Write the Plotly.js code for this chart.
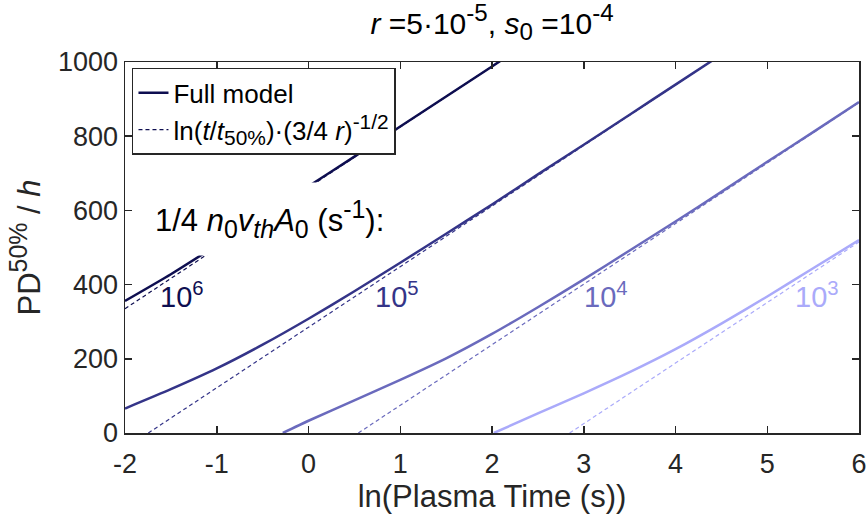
<!DOCTYPE html>
<html>
<head>
<meta charset="utf-8">
<script src="https://cdn.plot.ly/plotly-3.0.1.min.js"></script>
<style>html,body{margin:0;padding:0;background:#fff;}#chart{width:866px;height:521px;}</style>
</head>
<body>
<div id="chart"></div>
<script>
// Rates 1/4 n0 vth A0 (s^-1)
const rateLabels = ['10<sup>6</sup>', '10<sup>5</sup>', '10<sup>4</sup>', '10<sup>3</sup>'];
const colors = ['#0e0e50', '#343488', '#6a6abd', '#aaaafa'];

// Full model (solid) – ln(Plasma Time) vs PD50%/h
const full6X = [-2, -1.5, -1, -0.5, 0, 0.5, 1, 1.5, 2, 2.5];
const full6Y = [356, 428, 506, 585, 665, 745, 826, 907, 988, 1070];
const full5X = [-2, -1.5, -1, -0.5, 0, 0.5, 1, 1.5, 2, 2.5, 3, 3.5, 4, 4.5];
const full5Y = [66, 118, 174, 238, 308, 382, 459, 537, 616, 697, 777, 858, 939, 1020];
const full4X = [-0.28, 0, 0.5, 1, 1.5, 2, 2.5, 3, 3.5, 4, 4.5, 5, 5.5, 6];
const full4Y = [0, 33, 88, 143, 201, 267, 339, 414, 492, 570, 650, 731, 811, 892];
const full3X = [2.02, 2.5, 3, 3.5, 4, 4.5, 5, 5.5, 6];
const full3Y = [0, 53, 107, 164, 226, 295, 368, 444, 520];

// Asymptote ln(t/t50%)·(3/4 r)^(-1/2) (dashed)
const asym6X = [-2, 2.5];
const asym6Y = [335, 1070];
const asym5X = [-1.746, 4.5];
const asym5Y = [0, 1020];
const asym4X = [0.543, 6];
const asym4Y = [0, 891];
const asym3X = [2.846, 6];
const asym3Y = [0, 515];

// Axis ticks
const xTickVals = [-2, -1, 0, 1, 2, 3, 4, 5, 6];
const xTickText = ['-2', '-1', '0', '1', '2', '3', '4', '5', '6'];
const yTickVals = [0, 200, 400, 600, 800, 1000];
const yTickText = ['0', '200', '400', '600', '800', '1000'];

const fullX = [full6X, full5X, full4X, full3X];
const fullY = [full6Y, full5Y, full4Y, full3Y];
const asymX = [asym6X, asym5X, asym4X, asym3X];
const asymY = [asym6Y, asym5Y, asym4Y, asym3Y];

const FONT = '"Liberation Sans", Arial, Helvetica, sans-serif';
const traces = [];
for (let i = 0; i < 4; i++) {
  traces.push({
    x: fullX[i], y: fullY[i], type: 'scatter', mode: 'lines',
    line: {color: colors[i], width: 2.5, shape: 'spline', smoothing: 0.6},
    name: 'Full model', showlegend: i === 0, hoverinfo: 'skip'
  });
}
for (let i = 0; i < 4; i++) {
  traces.push({
    x: asymX[i], y: asymY[i], type: 'scatter', mode: 'lines',
    line: {color: colors[i], width: 1.2, dash: '4px,3px'},
    name: 'ln(<i>t</i>/<i>t</i><sub><span style="font-size:115%">50%</span></sub>)·(3/4 <i>r</i>)<sup><span style="font-size:115%">-1/2</span></sup>',
    showlegend: i === 0, hoverinfo: 'skip'
  });
}

const labelPos = [[-1.64, 372], [0.70, 372], [2.98, 372], [5.28, 372]];
const annotations = rateLabels.map((t, i) => ({
  x: labelPos[i][0], y: labelPos[i][1], xref: 'x', yref: 'y',
  text: t, showarrow: false, xanchor: 'left', yanchor: 'middle',
  font: {family: FONT, size: 29, color: colors[i]}
}));
annotations.push({
  x: -1.728, y: 576, xref: 'x', yref: 'y', xanchor: 'left', yanchor: 'middle',
  text: '1/4 <i>n</i><sub><span style="font-size:115%">0</span></sub><i>v</i><sub><i><span style="font-size:115%">th</span></i></sub><i>A</i><sub><span style="font-size:115%">0</span></sub> (s<sup><span style="font-size:115%">-1</span></sup>):',
  showarrow: false, bgcolor: '#ffffff', borderpad: 4, width: 242, height: 64, align: 'left',
  font: {family: FONT, size: 31, color: '#000000'}
});

const axisCommon = {
  showline: true, mirror: 'ticks', linecolor: '#262626', linewidth: 1.5,
  ticks: 'inside', ticklen: 7, tickwidth: 1.5, tickcolor: '#262626',
  showgrid: false, zeroline: false, ticklabeloverflow: 'allow',
  tickfont: {family: FONT, size: 27, color: '#262626'}
};

const layout = {
  width: 866, height: 521,
  margin: {l: 125, r: 7, t: 62, b: 88},
  paper_bgcolor: '#ffffff', plot_bgcolor: '#ffffff',
  font: {family: FONT, color: '#262626'},
  title: {
    text: '<i>r</i> =5·10<sup><span style="font-size:115%">-5</span></sup>, <i>s</i><sub><span style="font-size:115%">0</span></sub> =10<sup><span style="font-size:115%">-4</span></sup>',
    font: {family: FONT, size: 30, color: '#000000'},
    x: 0.5, xref: 'paper', xanchor: 'center', y: 0.955, yref: 'container', yanchor: 'middle'
  },
  xaxis: Object.assign({}, axisCommon, {
    range: [-2, 6], tickmode: 'array', tickvals: xTickVals, ticktext: xTickText,
    ticklabelstandoff: 6,
    title: {text: 'ln(Plasma Time (s))', font: {family: FONT, size: 31, color: '#262626'}, standoff: 6}
  }),
  yaxis: Object.assign({}, axisCommon, {
    range: [0, 1000], tickmode: 'array', tickvals: yTickVals, ticktext: yTickText,
    title: {text: 'PD<sup><span style="font-size:115%">50%</span></sup> / <i>h</i>', font: {family: FONT, size: 31, color: '#262626'}, standoff: 8}
  }),
  legend: {
    x: 0.0095, y: 0.984, xanchor: 'left', yanchor: 'top',
    bgcolor: '#ffffff', bordercolor: '#262626', borderwidth: 1.5,
    font: {family: FONT, size: 26, color: '#000000'},
    tracegroupgap: 0, itemwidth: 30
  },
  showlegend: true,
  annotations: annotations
};

Plotly.newPlot('chart', traces, layout, {staticPlot: true, displayModeBar: false});
</script>
</body>
</html>
